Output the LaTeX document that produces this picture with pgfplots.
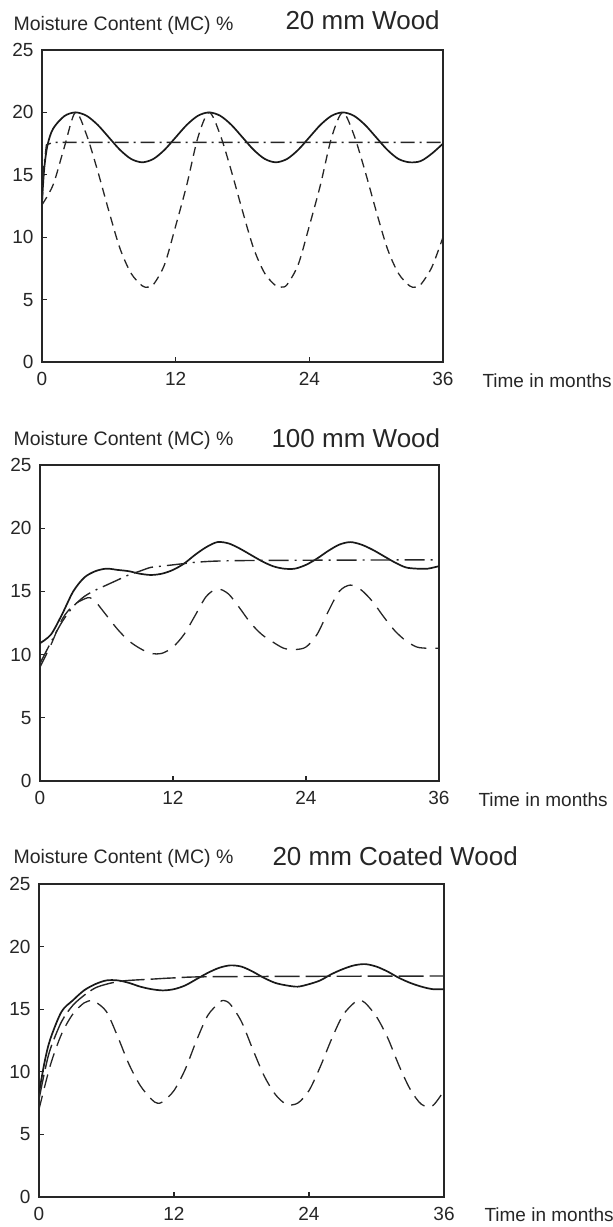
\documentclass[border=0pt]{standalone}
\usepackage{fontspec}
\setmainfont{Liberation Sans}
\usepackage{pgfplots}
\pgfplotsset{compat=1.18}

\pgfplotsset{
  mcaxis/.style={
    scale only axis,
    xmin=0, xmax=36, ymin=0, ymax=25,
    xtick={0,12,24,36}, ytick={0,5,10,15,20,25},
    tick pos=left,
    major tick length=5pt,
    axis line style={line width=1.4pt, black!85},
    tick style={line width=1.2pt, black!85},
    ticklabel style={font=\fontsize{19}{19}\selectfont, text=black!85},
    /pgf/number format/assume math mode=true,
    xticklabel style={yshift=-7pt},
    yticklabel style={xshift=-5pt},
    clip=true,
  },
  solidc/.style={line width=1.7pt, black!90, smooth},
  dashc/.style={line width=1.3pt, black!85, smooth},
  dotc/.style={line width=1.4pt, black!85},
}

\begin{document}
\begin{tikzpicture}[x=1pt,y=1pt]
\useasboundingbox (0,0) rectangle (613,1227);

% ---------------- Panel 1 : 20 mm Wood ----------------
\begin{axis}[mcaxis, at={(42pt,865pt)}, anchor=south west, width=401pt, height=312pt]
\addplot[solidc] coordinates {
(0,12.8) (0.2,15.5) (0.5,17.4) (1,18.7) (2,19.7) (3,20) (4,19.73) (5,19.0) (6,18.0) (7,17.0) (8,16.27) (9,16.0)
(10,16.27) (11,17.0) (12,18.0) (13,19.0) (14,19.73) (15,20) (16,19.73) (17,19.0) (18,18.0) (19,17.0) (20,16.27)
(21,16.0) (22,16.27) (23,17.0) (24,18.0) (25,19.0) (26,19.73) (27,20) (28,19.73) (29,19.0) (30,18.0) (31,17.0)
(32,16.27) (33,16.0) (34,16.1) (35,16.7) (36,17.5)};
\addplot[dotc, dash pattern=on 14pt off 5pt on 2pt off 5pt] coordinates {
(0,12.5) (0.15,15.5) (0.4,17.4) (1,17.6) (36,17.6)};
\addplot[dashc, dash pattern=on 9pt off 6pt] coordinates {
(0,12.6) (1,14.2) (2,17.2) (3,20) (4,18.2) (5,15.3) (6,12.1) (7,9.1) (8,7.1) (9,6.1) (9.5,6.0) (10,6.2)
(11,7.8) (12,10.9) (13,14.2) (14,18.0) (15,20) (16,18.2) (17,15.3) (18,12.1) (19,9.1) (20,7.1) (21,6.1)
(21.5,6.0) (22,6.2) (23,7.8) (24,10.9) (25,14.2) (26,18.0) (27,20) (28,18.2) (29,15.3) (30,12.1) (31,9.1)
(32,7.1) (33,6.1) (33.5,6.0) (34,6.2) (35,7.6) (36,10.0)};
\end{axis}
\node[anchor=west, font=\fontsize{19.5}{20}\selectfont, text=black!85] at (10,1202) {Moisture Content (MC) \%};
\node[anchor=west, font=\fontsize{26}{26}\selectfont, text=black!85] at (282,1207) {20 mm Wood};
\node[anchor=west, font=\fontsize{19}{19}\selectfont, text=black!85] at (479,846) {Time in months};

% ---------------- Panel 2 : 100 mm Wood ----------------
\begin{axis}[mcaxis, at={(40pt,446pt)}, anchor=south west, width=399pt, height=316pt]
\addplot[solidc] coordinates {
(0,10.9) (1,11.6) (2,13.2) (3,15.0) (4,16.1) (5,16.6) (6,16.8) (7,16.7) (8,16.6) (9,16.4) (10,16.3) (11,16.4)
(12,16.7) (13,17.2) (14,17.9) (15,18.5) (16,18.9) (17,18.8) (18,18.4) (19,17.9) (20,17.4) (21,17.0) (22,16.8)
(23,16.8) (24,17.1) (25,17.6) (26,18.2) (27,18.7) (28,18.9) (29,18.7) (30,18.3) (31,17.8) (32,17.3) (33,16.9)
(34,16.8) (35,16.8) (36,17.0)};
\addplot[dotc, smooth, dash pattern=on 20pt off 6pt on 2pt off 6pt] coordinates {
(0,9.3) (1,11.0) (2,12.6) (3,13.8) (4,14.6) (5,15.1) (6,15.5) (7,15.9) (8,16.3) (9,16.6) (10,16.9) (11,17.0)
(12,17.1) (13,17.2) (14,17.3) (16,17.4) (20,17.45) (36,17.5)};
\addplot[dashc, dash pattern=on 16pt off 9pt] coordinates {
(0,9.0) (1,10.8) (2,12.8) (3,13.9) (4,14.4) (4.5,14.5) (5,14.2) (6,13.1) (7,12.0) (8,11.1) (9,10.5) (10,10.1)
(11,10.1) (12,10.6) (13,11.6) (14,13.1) (15,14.6) (16,15.2) (17,14.8) (18,13.7) (19,12.5) (20,11.6) (21,11.0)
(22,10.5) (23,10.4) (24,10.6) (25,11.6) (26,13.4) (27,15.0) (28,15.5) (29,15.1) (30,14.2) (31,13.0) (32,11.9)
(33,11.1) (34,10.6) (35,10.5) (36,10.5)};
\end{axis}
\node[anchor=west, font=\fontsize{19.5}{20}\selectfont, text=black!85] at (10,787) {Moisture Content (MC) \%};
\node[anchor=west, font=\fontsize{26}{26}\selectfont, text=black!85] at (268,789) {100 mm Wood};
\node[anchor=west, font=\fontsize{19}{19}\selectfont, text=black!85] at (475,427) {Time in months};

% ---------------- Panel 3 : 20 mm Coated Wood ----------------
\begin{axis}[mcaxis, at={(39pt,30pt)}, anchor=south west, width=405pt, height=313pt]
\addplot[solidc] coordinates {
(0,8.3) (0.5,10.8) (1,12.6) (2,14.8) (3,15.7) (4,16.5) (5,17.0) (6,17.3) (7,17.3) (8,17.1) (9,16.8) (10,16.6)
(11,16.5) (12,16.6) (13,16.9) (14,17.4) (15,17.9) (16,18.3) (17,18.5) (18,18.4) (19,18.0) (20,17.5) (21,17.1)
(22,16.9) (23,16.8) (24,17.0) (25,17.3) (26,17.8) (27,18.2) (28,18.5) (29,18.6) (30,18.4) (31,18.0) (32,17.5)
(33,17.1) (34,16.8) (35,16.6) (36,16.6)};
\addplot[dotc, smooth, dash pattern=on 25pt off 6pt] coordinates {
(0,7.8) (0.5,10.0) (1,11.8) (2,14.0) (3,15.3) (4,16.1) (5,16.7) (6,17.0) (7,17.2) (8,17.3) (10,17.4) (12,17.5)
(16,17.6) (36,17.65)};
\addplot[dashc, dash pattern=on 14pt off 8pt] coordinates {
(0,7.0) (1,10.5) (2,13.0) (3,14.6) (4,15.5) (4.7,15.7) (5,15.6) (6,14.8) (7,12.8) (8,10.6) (9,8.9) (10,7.8)
(10.5,7.5) (11,7.6) (12,8.5) (13,10.2) (14,12.5) (15,14.5) (16,15.5) (16.4,15.7) (17,15.4) (18,14.0) (19,11.8)
(20,9.7) (21,8.2) (22,7.4) (23,7.5) (24,8.5) (25,10.4) (26,12.6) (27,14.5) (28,15.5) (28.5,15.7) (29,15.5)
(30,14.4) (31,12.7) (32,10.5) (33,8.6) (34,7.4) (35,7.3) (36,8.5)};
\end{axis}
\node[anchor=west, font=\fontsize{19.5}{20}\selectfont, text=black!85] at (10,369) {Moisture Content (MC) \%};
\node[anchor=west, font=\fontsize{26}{26}\selectfont, text=black!85] at (269,371) {20 mm Coated Wood};
\node[anchor=west, font=\fontsize{19}{19}\selectfont, text=black!85] at (481,12) {Time in months};
\end{tikzpicture}
\end{document}
